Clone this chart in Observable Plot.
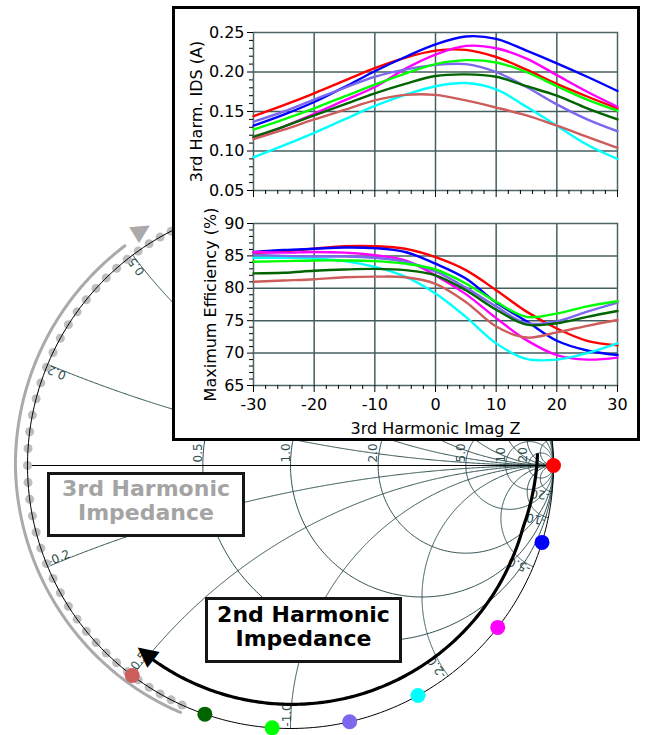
<!DOCTYPE html>
<html><head><meta charset="utf-8">
<script src="https://cdn.jsdelivr.net/npm/d3@7"></script>
<script src="https://cdn.jsdelivr.net/npm/@observablehq/plot@0.6"></script>
<style>
body{margin:0;background:#fff;}
#wrap{position:relative;width:649px;height:735px;overflow:hidden;background:#fff;font-family:"DejaVu Sans",Verdana,sans-serif;}
#smith{position:absolute;left:0;top:0;}
#smith svg{display:block;}
#inset{position:absolute;left:172px;top:6px;width:462px;height:429px;border:3px solid #000;background:#fff;}
#inset svg{display:block;}
.box{position:absolute;border:3px solid #151515;background:#fff;font-weight:bold;font-size:22px;line-height:24px;text-align:center;box-sizing:content-box;}
</style></head>
<body>
<div id="wrap">
 <div id="smith"></div>
 <div id="inset"><div id="p1"></div><div id="p2"></div></div>
 <div class="box" id="b3" style="left:47px;top:472px;width:192px;height:57px;padding-top:2px;color:#a4a4a4">3rd Harmonic<br>Impedance</div>
 <div class="box" id="b2" style="left:205px;top:597px;width:191px;height:57px;padding-top:3px;color:#000">2nd Harmonic<br>Impedance</div>
</div>
<script>
// ---------------- data ----------------
const imagZ = [-30,-25,-20,-15,-10,-5,0,5,10,15,20,25,30];
const stateNames = ["Γ2 ∠0°","Γ2 ∠-17°","Γ2 ∠-38°","Γ2 ∠-61°","Γ2 ∠-77°","Γ2 ∠-94°","Γ2 ∠-109°","Γ2 ∠-127°"];
const stateColors = ["#ff0000","#0000ff","#ff00ff","#00ffff","#7b68ee","#00ff00","#006400","#cd5c5c"];
const h2PhaseDeg = [0,-17,-38,-61,-77,-94,-109,-127];

const idsRed       = [0.144,0.158,0.173,0.189,0.205,0.218,0.227,0.228,0.219,0.203,0.185,0.169,0.154];
const idsBlue      = [0.132,0.146,0.162,0.181,0.201,0.219,0.235,0.245,0.242,0.227,0.211,0.194,0.176];
const idsMagenta   = [0.117,0.131,0.147,0.164,0.181,0.204,0.222,0.233,0.230,0.217,0.196,0.175,0.156];
const idsCyan      = [0.092,0.107,0.123,0.140,0.157,0.171,0.182,0.186,0.178,0.156,0.132,0.108,0.090];
const idsPurple    = [0.137,0.150,0.165,0.180,0.194,0.203,0.209,0.210,0.200,0.181,0.159,0.140,0.125];
const idsLime      = [0.127,0.140,0.154,0.169,0.184,0.198,0.210,0.215,0.212,0.200,0.182,0.165,0.151];
const idsDarkgreen = [0.118,0.131,0.145,0.159,0.173,0.185,0.195,0.197,0.194,0.182,0.170,0.154,0.140];
const idsIndianred = [0.115,0.127,0.140,0.152,0.164,0.171,0.171,0.164,0.155,0.145,0.132,0.118,0.104];

const effRed       = [85.4,85.7,86.1,86.5,86.5,86.1,84.8,82.8,79.7,76.4,73.8,71.9,71.2];
const effBlue      = [85.6,85.9,86.1,86.3,86.2,85.6,83.8,81.5,77.8,74.9,71.9,70.4,69.7];
const effMagenta   = [85.6,85.5,85.6,85.5,85.1,84.3,82.0,79.1,75.4,72.0,69.7,69.0,69.3];
const effCyan      = [84.7,84.7,84.6,84.2,83.3,81.8,79.2,75.6,71.5,69.1,69.0,70.0,71.5];
const effPurple    = [85.2,85.0,84.9,84.9,84.7,84.1,82.6,80.1,77.2,74.6,74.9,76.4,77.8];
const effLime      = [84.1,84.2,84.3,84.3,84.2,83.8,82.9,80.75,77.9,75.6,76.1,77.2,78.0];
const effDarkgreen = [82.3,82.4,82.7,82.9,83.0,82.8,82.0,79.7,76.7,74.4,74.6,75.6,76.5];
const effIndianred = [81.0,81.2,81.4,81.7,81.8,81.7,80.7,77.9,74.1,72.4,73.2,74.2,75.1];

// 3rd harmonic reactance sweep (ohms) shown as grey dots on the Smith chart
const h3ImagOhm = [-30,-28.5,-27,-25.5,-24,-22.5,-21,-19.5,-18,-16.5,-15,-13.5,-12,-10.5,-9,-7.5,-6,-4.5,-3,-1.5,0,
                   1.5,3,4.5,6,7.5,9,10.5,12,13.5,15,16.5,18,19.5,21,22.5,24,25.5,27,28.5,30];
const h3RefOhm = 46.5;

// Smith chart grid
const rCircles = [0.5,1,2,5,10,20];
const xArcs = [0.2,0.5,1,2,5,10,20];

// tick values
const idsTicks = [0.05,0.10,0.15,0.20,0.25];
const idsMinor = [0.06,0.07,0.08,0.09,0.11,0.12,0.13,0.14,0.16,0.17,0.18,0.19,0.21,0.22,0.23,0.24];
const effTicks = [65,70,75,80,85,90];
const effMinor = [66,67,68,69,71,72,73,74,76,77,78,79,81,82,83,84,86,87,88,89];
const zTicks = [-30,-20,-10,0,10,20,30];
const zMinor = [-28,-26,-24,-22,-18,-16,-14,-12,-8,-6,-4,-2,2,4,6,8,12,14,16,18,22,24,26,28];

// annotation arcs (screen angle in degrees, radius in |Γ| units)
const arrow2Theta = [-2.5, 15, 125], arrow2R = [0.94, 0.915, 0.905];
const arrow3Theta = [114, 180, 233], arrow3R = [1.028, 1.046, 1.046];
const head2 = {theta: 128, r: 0.903};
const head3 = {theta: 238, r: 1.058};

// ---------------- Smith chart ----------------
const gridColor = "#2f4f4f";
function gammaOf(r, x){ const d=(r+1)*(r+1)+x*x; return {gr:(r*r+x*x-1)/d, gi:2*x/d}; }
const grid = [];
rCircles.forEach(r => { const c=r/(1+r), R=1/(1+r);
  for (let k=0;k<=360;k++){ const a=k*Math.PI/180; grid.push({id:"r"+r, gr:c+R*Math.cos(a), gi:R*Math.sin(a)}); } });
const allX = [...xArcs, ...xArcs.map(v=>-v)];
allX.forEach(x => { for (let k=0;k<=500;k++){ const u=k/500*(Math.PI/2-1e-4); grid.push({id:"x"+x, ...gammaOf(Math.tan(u), x)}); } });
const outer = d3.range(0,361).map(k => ({gr:Math.cos(k*Math.PI/180), gi:Math.sin(k*Math.PI/180)}));
const fmt = v => Math.abs(v) >= 10 ? String(v) : v.toFixed(1);
const rLabels = rCircles.map(r => ({gr:(r-1)/(r+1), gi:0, text:fmt(r)}));
const xLabels = allX.map(x => { const p=gammaOf(0,x); const th=-Math.atan2(p.gi,p.gr)*180/Math.PI;
  return {gr:p.gr*0.993, gi:p.gi*0.993, text:fmt(x), rotate: x<0 ? th-180 : th, lower: x<0}; });
const h3Pts = h3ImagOhm.map(X => gammaOf(0, X/h3RefOhm));
const h2Pts = h2PhaseDeg.map((p,i) => ({gr:Math.cos(p*Math.PI/180), gi:Math.sin(p*Math.PI/180), state:stateNames[i]}));
function arcPts(thetas, radii){ const rs=d3.scaleLinear().domain(thetas).range(radii).clamp(true);
  const a=thetas[0], b=thetas[thetas.length-1];
  return d3.range(0,201).map(k => { const t=a+(b-a)*k/200, r=rs(t); return {gr:r*Math.cos(-t*Math.PI/180), gi:r*Math.sin(-t*Math.PI/180)}; }); }
const arc2 = arcPts(arrow2Theta, arrow2R), arc3 = arcPts(arrow3Theta, arrow3R);
const norm180 = a => ((a % 360) + 540) % 360 - 180;
const headPt = h => ({gr:h.r*Math.cos(-h.theta*Math.PI/180), gi:h.r*Math.sin(-h.theta*Math.PI/180), rot:norm180(h.theta+180)});

const smithPlot = Plot.plot({
  width:649, height:735, margin:0,
  x:{domain:[-1,1], range:[27,553], axis:null},
  y:{domain:[-1,1], range:[728,202], axis:null},
  color:{domain:stateNames, range:stateColors},
  style:{fontFamily:"DejaVu Sans, Verdana, sans-serif", background:"transparent", overflow:"visible"},
  marks:[
    Plot.line(grid, {x:"gr", y:"gi", z:"id", stroke:gridColor, strokeWidth:1}),
    Plot.ruleY([0], {x1:-1, x2:1, stroke:"#000", strokeWidth:1}),
    Plot.text(rLabels, {x:"gr", y:"gi", text:"text", rotate:-90, textAnchor:"start", lineAnchor:"bottom", dx:-1, dy:-3, fontSize:12, fill:gridColor}),
    Plot.text(xLabels.filter(d=>d.lower), {x:"gr", y:"gi", text:"text", rotate:d=>d.rotate, textAnchor:"start", lineAnchor:"bottom", fontSize:12, fill:gridColor}),
    Plot.text(xLabels.filter(d=>!d.lower), {x:"gr", y:"gi", text:"text", rotate:d=>d.rotate, textAnchor:"end", lineAnchor:"bottom", fontSize:12, fill:gridColor}),
    Plot.dot(h3Pts, {x:"gr", y:"gi", r:4.5, fill:"#bdbdbd"}),
    Plot.line(outer, {x:"gr", y:"gi", stroke:"#000", strokeWidth:1}),
    Plot.line(arc3, {x:"gr", y:"gi", stroke:"#aaaaaa", strokeWidth:3}),
    Plot.text([headPt(head3)], {x:"gr", y:"gi", text:()=>"▲", rotate:d=>d.rot, fontSize:24, fill:"#aaaaaa"}),
    Plot.line(arc2, {x:"gr", y:"gi", stroke:"#000", strokeWidth:3.2}),
    Plot.text([headPt(head2)], {x:"gr", y:"gi", text:()=>"▲", rotate:d=>d.rot, fontSize:26, fill:"#000"}),
    Plot.dot(h2Pts, {x:"gr", y:"gi", r:7.5, fill:"state"})
  ]
});
document.getElementById("smith").appendChild(smithPlot);

// ---------------- inset plots ----------------
const idsSeries = [idsRed,idsBlue,idsMagenta,idsCyan,idsPurple,idsLime,idsDarkgreen,idsIndianred];
const effSeries = [effRed,effBlue,effMagenta,effCyan,effPurple,effLime,effDarkgreen,effIndianred];
const table = [];
stateNames.forEach((s,i) => imagZ.forEach((z,j) => table.push({state:s, z, ids:idsSeries[i][j], eff:effSeries[i][j]})));

const plotGrid = "#445f5f";
const plotStyle = {fontFamily:"DejaVu Sans, Verdana, sans-serif", fontSize:"16px", background:"white", color:"black"};
const blank = () => "";

const idsPlot = Plot.plot({
  width:462, height:200, marginLeft:78, marginRight:20, marginTop:23, marginBottom:19,
  style:plotStyle,
  x:{domain:[-30,30]}, y:{domain:[0.05,0.25]},
  color:{domain:stateNames, range:stateColors},
  marks:[
    Plot.gridX(zTicks.slice(1,-1), {stroke:plotGrid, strokeOpacity:1, strokeWidth:1.5}),
    Plot.gridY(idsTicks.slice(1,-1), {stroke:plotGrid, strokeOpacity:1, strokeWidth:1.5}),
    Plot.frame({stroke:"#4c6464", strokeWidth:1.5}),
    Plot.line(table, {x:"z", y:"ids", z:"state", stroke:"state", strokeWidth:2.4, curve:"catmull-rom"}),
    Plot.axisY(idsTicks, {tickSize:6, tickPadding:3, tickFormat:d3.format(".2f"), label:null, fontSize:16}),
    Plot.axisY(idsMinor, {tickSize:4, tickFormat:blank, label:null}),
    Plot.axisX(zTicks, {tickSize:7, tickFormat:blank, label:null}),
    Plot.axisX(zMinor, {tickSize:4, tickFormat:blank, label:null}),
    Plot.text(["3rd Harm. IDS (A)"], {text:d=>d, frameAnchor:"left", textAnchor:"middle", lineAnchor:"middle", dx:-57, rotate:-90, fontSize:16})
  ]
});
document.getElementById("p1").appendChild(idsPlot);

const effPlot = Plot.plot({
  width:462, height:229, marginLeft:78, marginRight:20, marginTop:14, marginBottom:53,
  style:plotStyle,
  x:{domain:[-30,30]}, y:{domain:[65,90]},
  color:{domain:stateNames, range:stateColors},
  marks:[
    Plot.gridX(zTicks.slice(1,-1), {stroke:plotGrid, strokeOpacity:1, strokeWidth:1.5}),
    Plot.gridY(effTicks.slice(1,-1), {stroke:plotGrid, strokeOpacity:1, strokeWidth:1.5}),
    Plot.frame({stroke:"#4c6464", strokeWidth:1.5}),
    Plot.line(table, {x:"z", y:"eff", z:"state", stroke:"state", strokeWidth:2.4, curve:"catmull-rom"}),
    Plot.axisY(effTicks, {tickSize:6, tickPadding:3, tickFormat:d=>String(d), label:null, fontSize:16}),
    Plot.axisY(effMinor, {tickSize:4, tickFormat:blank, label:null}),
    Plot.axisX(zTicks, {tickSize:7, tickPadding:6, tickFormat:d=>String(d), label:null, fontSize:16}),
    Plot.axisX(zMinor, {tickSize:4, tickFormat:blank, label:null}),
    Plot.text(["Maximum Efficiency (%)"], {text:d=>d, frameAnchor:"left", textAnchor:"middle", lineAnchor:"middle", dx:-43, rotate:-90, fontSize:16}),
    Plot.text(["3rd Harmonic Imag Z"], {text:d=>d, frameAnchor:"bottom", textAnchor:"middle", lineAnchor:"middle", dy:43, fontSize:16})
  ]
});
document.getElementById("p2").appendChild(effPlot);
</script>
</body></html>
